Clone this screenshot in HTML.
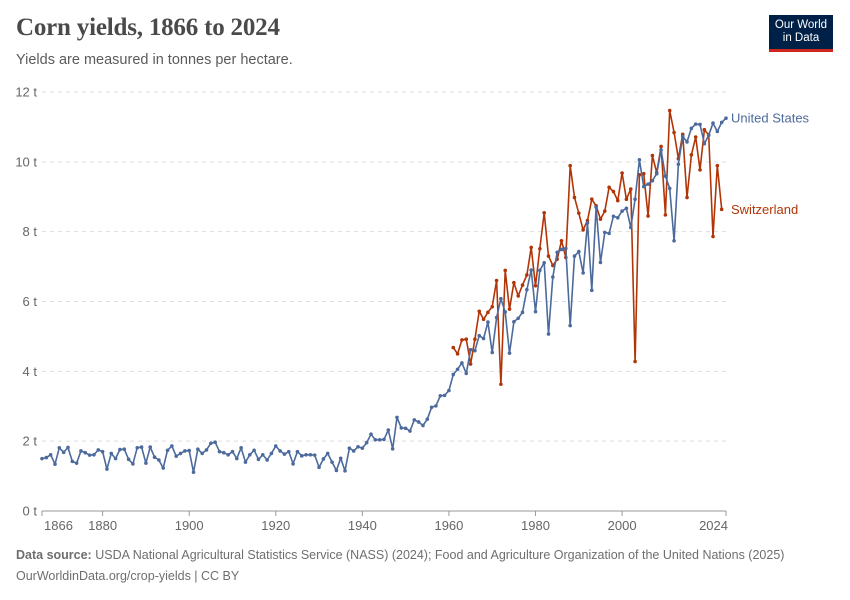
<!DOCTYPE html>
<html><head><meta charset="utf-8">
<style>
body{margin:0;background:#fff;font-family:"Liberation Sans",sans-serif;}
#wrap{position:relative;width:850px;height:600px;overflow:hidden;}
h1{position:absolute;left:16px;top:14px;margin:0;font-family:"Liberation Serif",serif;font-size:25px;font-weight:bold;color:#4a4a4a;letter-spacing:-0.2px;}
.sub{position:absolute;left:16px;top:52px;font-size:14.5px;color:#5b5b5b;}
.logo{position:absolute;left:769px;top:15px;width:64px;height:37px;background:#002147;color:#fff;font-size:11.5px;line-height:13px;text-align:center;padding-top:4px;box-sizing:border-box;border-bottom:3px solid #ce261e;}
.foot{position:absolute;left:16px;font-size:12.5px;color:#6e6e6e;}
</style></head><body>
<div id="wrap">
<h1>Corn yields, 1866 to 2024</h1>
<div class="sub">Yields are measured in tonnes per hectare.</div>
<div class="logo">Our World<br>in Data</div>
<svg id="chart" width="850" height="600" style="position:absolute;left:0;top:0"></svg>
<div class="foot" style="top:548px"><b>Data source:</b> USDA National Agricultural Statistics Service (NASS) (2024); Food and Agriculture Organization of the United Nations (2025)</div>
<div class="foot" style="top:569px">OurWorldinData.org/crop-yields | CC BY</div>
</div>
<script>
const usStart = 1866;
const usValues = [1.50,1.53,1.61,1.34,1.81,1.68,1.82,1.42,1.37,1.72,1.67,1.60,1.61,1.75,1.70,1.20,1.65,1.50,1.76,1.77,1.48,1.35,1.81,1.83,1.37,1.83,1.54,1.46,1.23,1.74,1.86,1.57,1.65,1.72,1.73,1.11,1.77,1.65,1.75,1.94,1.97,1.70,1.67,1.61,1.70,1.50,1.81,1.40,1.61,1.74,1.48,1.61,1.46,1.65,1.86,1.72,1.63,1.70,1.35,1.70,1.58,1.61,1.61,1.60,1.25,1.49,1.65,1.40,1.16,1.51,1.15,1.80,1.72,1.84,1.80,1.96,2.20,2.04,2.04,2.05,2.32,1.78,2.68,2.38,2.37,2.29,2.61,2.55,2.45,2.63,2.97,3.01,3.30,3.31,3.45,
3.91,4.06,4.24,3.94,4.62,4.59,5.02,4.94,5.41,4.54,5.54,6.08,5.70,4.52,5.42,5.52,5.69,6.34,6.90,5.71,6.89,7.11,5.07,6.70,7.41,7.49,7.52,5.31,7.30,7.43,6.82,8.25,6.32,8.70,7.12,7.98,7.95,8.44,8.40,8.59,8.67,8.12,8.93,10.06,9.29,9.36,9.46,9.66,10.34,9.59,9.24,7.74,9.93,10.73,10.57,10.96,11.08,11.07,10.52,10.76,11.11,10.87,11.13,11.25];
const chStart = 1961;
const chValues = [4.68,4.50,4.90,4.92,4.21,4.92,5.72,5.49,5.69,5.85,6.60,3.63,6.89,5.78,6.54,6.16,6.47,6.76,7.55,6.45,7.51,8.54,7.30,7.03,7.21,7.74,7.26,9.89,8.98,8.53,8.05,8.32,8.93,8.74,8.36,8.59,9.27,9.15,8.89,9.68,8.93,9.22,4.28,9.63,9.66,8.45,10.18,9.69,10.44,8.48,11.47,10.84,10.09,10.79,8.98,10.20,10.71,9.77,10.92,10.77,7.86,9.89,8.64];
const yTicks = [0,2,4,6,8,10,12];
const xTicks = [1866,1880,1900,1920,1940,1960,1980,2000,2024];
const NS='http://www.w3.org/2000/svg';
const svg=document.getElementById('chart');
const X0=42,X1=726,Y0=511,Y1=92;
const xS=y=>X0+(y-1866)*(X1-X0)/(2024-1866);
const yS=v=>Y0-v*(Y0-Y1)/12;
function mk(t,a,p){const e=document.createElementNS(NS,t);for(const k in a)e.setAttribute(k,a[k]);(p||svg).appendChild(e);return e;}
yTicks.forEach(t=>{
  const g=mk('line',{x1:X0,x2:X1,y1:yS(t),y2:yS(t),stroke:t?'#dddddd':'#999','stroke-dasharray':t?'4,4':'none'});
  
  
  const tx=mk('text',{x:37,y:yS(t)+4.5,'text-anchor':'end','font-size':13,fill:'#666','font-family':'Liberation Sans, sans-serif'});
  tx.textContent=t+' t';
  
  
});
xTicks.forEach(t=>{
  const l=mk('line',{x1:xS(t),x2:xS(t),y1:Y0,y2:Y0+5,stroke:'#999'});
  
  
  let anchor='middle',xx=xS(t);
  if(t===1866){anchor='start';xx=xS(t)+2;}
  if(t===2024){anchor='end';xx=xS(t)+2;}
  const tx=mk('text',{x:xx,y:Y0+19,'text-anchor':anchor,'font-size':13,fill:'#666','font-family':'Liberation Sans, sans-serif'});
  tx.textContent=t;
  
  
});
function series(start,vals,color,name,label){
  const pts=vals.map((v,i)=>xS(start+i).toFixed(1)+','+yS(v).toFixed(1)).join(' ');
  const pl=mk('polyline',{points:pts,fill:'none',stroke:color,'stroke-width':1.6,'stroke-linejoin':'round'});
  
  
  vals.forEach((v,i)=>{
    const c=mk('circle',{cx:xS(start+i),cy:yS(v),r:1.8,fill:color});
    
    
  });
  const last=vals[vals.length-1];
  const tx=mk('text',{x:X1+5,y:yS(last)+4.5,'font-size':13,fill:color,'font-family':'Liberation Sans, sans-serif'});
  tx.textContent=label;
  
  
}
series(chStart,chValues,'#b13507','switzerland','Switzerland');
series(usStart,usValues,'#4c6a9c','united-states','United States');
</script>
</body></html>
